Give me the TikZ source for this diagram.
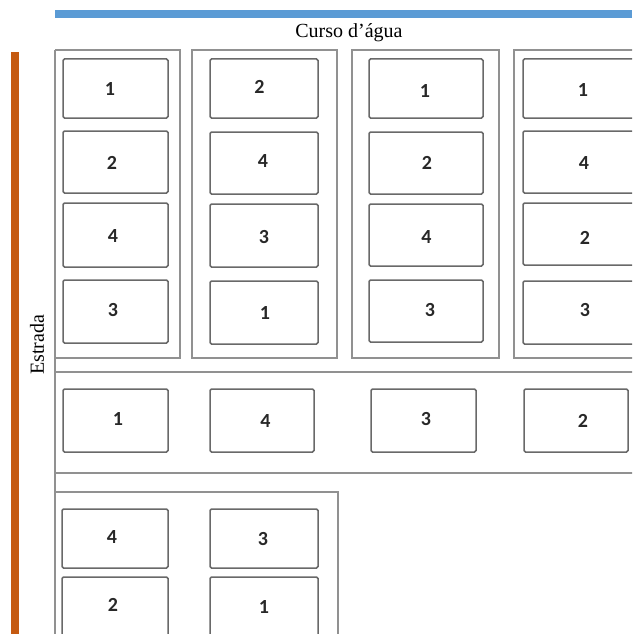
\documentclass[tikz,border=0pt]{standalone}
\usepackage{fontspec}
\setmainfont{Liberation Serif}
\newfontfamily\digitfont{Carlito}
\usepackage{tikz}
\usetikzlibrary{positioning}
\definecolor{myblue}{RGB}{91,155,213}
\definecolor{myorange}{RGB}{197,90,17}
\definecolor{boxgray}{RGB}{105,105,105}
\definecolor{framegray}{RGB}{145,145,145}
\definecolor{digitdark}{RGB}{40,40,40}
\tikzset{
  plotbox/.style={rectangle, draw=boxgray, fill=white, inner sep=0pt,
    rounded corners=1.5pt, line width=1.5pt},
  blockframe/.style={draw=framegray, line width=1.7pt},
  digit/.style={font=\digitfont\bfseries\fontsize{20}{20}\selectfont, text=digitdark, inner sep=0pt},
  label/.style={font=\fontsize{20}{20}\selectfont, inner sep=0pt}
}

\begin{document}
\begin{tikzpicture}[x=1pt, y=-1pt]
  \clip (0,0) rectangle (632,634);
  \fill[white] (0,0) rectangle (632,634);

  % Water course and road
  \fill[myblue] (55,10) rectangle (632,18);
  \fill[myorange] (11,52) rectangle (19,634);
  \node[label] (agua) at (349,33) {Curso d’água};
  \node[label, rotate=90] (estrada) at (37,345) {Estrada};

  % Block frames
  \draw[blockframe] (55,50) -- (55,634);
  \draw[blockframe] (55,50) -- (180,50) -- (180,358) -- (55,358);
  \draw[blockframe] (192,50) rectangle (337,358);
  \draw[blockframe] (352,50) rectangle (499,358);
  \draw[blockframe] (640,50) -- (514,50) -- (514,358) -- (640,358);
  \draw[blockframe] (55,372) -- (640,372);
  \draw[blockframe] (55,473) -- (640,473);
  \draw[blockframe] (55,492) -- (338,492) -- (338,640);

  % Plots: corners / digit position / treatment
  \foreach \xa/\ya/\xb/\yb/\dx/\dy/\n [count=\i] in {
      63/59/168/118/110/89.5/1, 63/131/168/193/112/163/2,
      63/203/168/267/113/236/4, 63/280/168/343/113/310/3,
      210/59/318/118/259.5/87/2, 210/132/318/194/263/161.5/4,
      210/204/318/267/264/237/3, 210/281/318/344/265/313/1,
      369/59/483/118/425/91/1, 369/132/483/194/427/163/2,
      369/204/483/266/426.5/237/4, 369/280/483/342/430/310/3,
      523/59/645/118/583/90/1, 523/131/645/193/584/163/4,
      523/203/645/265/585/238/2, 523/281/645/344/585/310/3,
      63/389/168/452/118/419/1, 210/389/314/452/265.5/421/4,
      371/389/476/452/426/419/3, 524/389/628/452/583/421/2,
      62/509/168/568/112/537/4, 210/509/318/568/263/539/3,
      62/577/168/645/113/604.5/2, 210/577/318/645/264/607/1} {
    \node[plotbox, minimum width={(\xb-\xa)*1pt}, minimum height={(\yb-\ya)*1pt}]
      (p\i) at ({(\xa+\xb)/2},{(\ya+\yb)/2}) {};
    \node[digit] (d\i) at (\dx,\dy) {\n};
  }
\end{tikzpicture}
\end{document}
